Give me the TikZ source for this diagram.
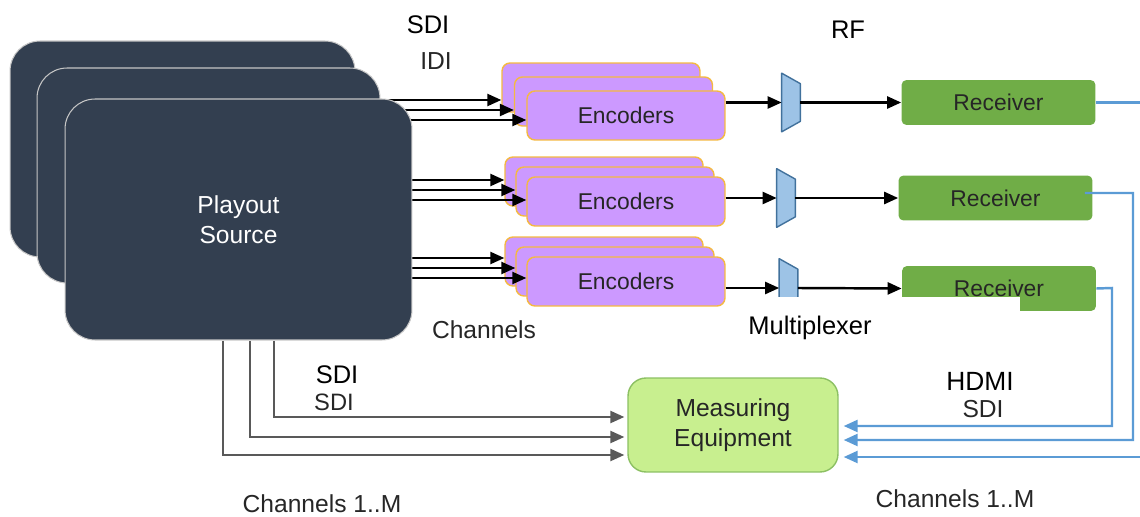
\documentclass[tikz,border=0pt]{standalone}
\usepackage{fontspec}
\setmainfont{Liberation Sans}
\usetikzlibrary{arrows.meta,positioning}

\definecolor{slate}{HTML}{333F50}
\definecolor{lilac}{HTML}{CC99FF}
\definecolor{amber}{HTML}{F4B942}
\definecolor{muxblue}{HTML}{9DC3E6}
\definecolor{muxedge}{HTML}{41719C}
\definecolor{rxgreen}{HTML}{70AD47}
\definecolor{measfill}{HTML}{C8EF8F}
\definecolor{measedge}{HTML}{8CC063}
\definecolor{wireblue}{HTML}{5B9BD5}
\definecolor{wiregrey}{HTML}{595959}
\definecolor{inkgrey}{HTML}{262626}

\pgfdeclarelayer{fg}
\pgfsetlayers{main,fg}

\tikzset{
  src/.style={draw=gray!45, line width=0.6pt, fill=slate, rounded corners=0.6cm, inner sep=0pt},
  enc/.style={draw=amber, line width=0.8pt, fill=lilac, rounded corners=0.16cm, minimum width=3.96cm, minimum height=0.98cm, inner sep=0pt, text=inkgrey, font=\fontsize{13}{15}\selectfont},
  muxbox/.style={minimum width=0.36cm, minimum height=1.16cm, inner sep=0pt},
  muxfill/.style={draw=muxedge, fill=muxblue, line width=0.8pt, line join=round},
  rx/.style={fill=rxgreen, rounded corners=0.1cm, minimum width=3.88cm, minimum height=0.9cm, inner sep=0pt, text=inkgrey, font=\fontsize{13}{15}\selectfont},
  meas/.style={draw=measedge, line width=0.8pt, fill=measfill, rounded corners=0.36cm, minimum width=4.2cm, minimum height=1.88cm, align=center, text=inkgrey, font=\fontsize{14}{17}\selectfont},
  lbl/.style={anchor=base, inner sep=0pt, font=\fontsize{14.5}{17}\selectfont},
  note/.style={lbl, text=inkgrey, font=\fontsize{14}{17}\selectfont},
  feed/.style={line width=1.4pt, -{Triangle[length=0.28cm,width=0.24cm]}},
  tap/.style={draw=wiregrey, line width=1.4pt, -{Triangle[length=0.28cm,width=0.24cm]}, shorten >=0.06cm},
  ret/.style={draw=wireblue, line width=1.4pt, -{Triangle[length=0.28cm,width=0.24cm]}, shorten >=0.1cm}
}

\begin{document}
\begin{tikzpicture}[x=0.02cm, y=-0.02cm]
    \useasboundingbox (0,0) rectangle (1140,517);
    \clip (0,0) rectangle (1140,517);

    % playout stack
    \begin{pgfonlayer}{fg}
        \node[src, minimum width=6.9cm, minimum height=4.32cm] (src3) at (182.5,149) {};
        \node[src, minimum width=6.86cm, minimum height=4.3cm] (src2) at (208.5,175.5) {};
        \node[src, minimum width=6.94cm, minimum height=4.82cm, align=center, text=white, font=\fontsize{14}{17}\selectfont] (src1) at (238.5,219.5) {Playout\\Source};
    \end{pgfonlayer}

    % encoders
    \node[enc] (enc1a) at (601,87.5) {};
    \node[enc] (enc1b) at (613.5,101.5) {};
    \node[enc] (enc1c) at (626,115.5) {Encoders};
    \node[enc] (enc2a) at (604,181.5) {};
    \node[enc] (enc2b) at (615,191.5) {};
    \node[enc] (enc2c) at (626,201.5) {Encoders};
    \node[enc] (enc3a) at (604,261.5) {};
    \node[enc] (enc3b) at (615,271.5) {};
    \node[enc] (enc3c) at (626,281.5) {Encoders};

    % channels into encoders
    \draw[feed] (src2.east |- 0,100) -- (enc1a.west |- 0,100);
    \draw[feed] (src2.east |- 0,110) -- (enc1b.west |- 0,110);
    \draw[feed] (src2.east |- 0,120) -- (enc1c.west |- 0,120);
    \draw[feed] (src2.east |- 0,180) -- (enc2a.west |- 0,180);
    \draw[feed] (src2.east |- 0,190) -- (enc2b.west |- 0,190);
    \draw[feed] (src2.east |- 0,200) -- (enc2c.west |- 0,200);
    \draw[feed] (src2.east |- 0,258) -- (enc3a.west |- 0,258);
    \draw[feed] (src2.east |- 0,268) -- (enc3b.west |- 0,268);
    \draw[feed] (src2.east |- 0,278) -- (enc3c.west |- 0,278);

    % multiplexers
    \node[muxbox] (mux1) at (791,102.5) {};
    \node[muxbox] (mux2) at (786,198) {};
    \node[muxbox] (mux3) at (788.5,288) {};
    \draw[muxfill] (mux1.north west) -- ([yshift=-0.21cm]mux1.north east) -- ([yshift=0.21cm]mux1.south east) -- (mux1.south west) -- cycle;
    \draw[muxfill] (mux2.north west) -- ([yshift=-0.21cm]mux2.north east) -- ([yshift=0.21cm]mux2.south east) -- (mux2.south west) -- cycle;
    \draw[muxfill] (mux3.north west) -- ([yshift=-0.21cm]mux3.north east) -- ([yshift=0.21cm]mux3.south east) -- (mux3.south west) -- cycle;

    % receivers
    \node[rx] (rx1) at (998.5,102.5) {Receiver};
    \node[rx] (rx2) at (995.5,198) {Receiver};
    \node[rx] (rx3) at (999,288.5) {Receiver};

    \draw[feed] (mux1 -| enc1c.east) -- (mux1.west);
    \draw[feed] (mux2 -| enc2c.east) -- (mux2.west);
    \draw[feed] (mux3 -| enc3c.east) -- (mux3.west);
    \draw[feed] (mux1.east) -- (rx1.west);
    \draw[feed] (mux2.east) -- (rx2.west);
    \draw[feed] (mux3.east) -- (rx3.west);

    % measuring equipment
    \node[meas] (meas) at (733,425) {Measuring\\Equipment};

    \draw[tap] (src1.south -| 274,0) |- (meas.west |- 0,417);
    \draw[tap] (src1.south -| 250,0) |- (meas.west |- 0,437);
    \draw[tap] (src1.south -| 223,0) |- (meas.west |- 0,455);

    \draw[ret] ([xshift=-0.16cm,yshift=0.1cm]rx2.east) -- (1133,193) |- (meas.east |- 0,440);
    \draw[ret] (rx3.east) -- (1112,288) |- (meas.east |- 0,426);
    \draw[ret] (rx1.east) -- (1160,102.5) |- (meas.east |- 0,457);

    % blanked patch
    \fill[white] (735,297) rectangle (1020,346);

    % labels
    \node[lbl] (tsdi) at (428,34) {SDI};
    \node[note] (tidi) at (436,70) {IDI};
    \node[lbl] (trf) at (848,39) {RF};
    \node[note] (tch) at (484,338) {Channels};
    \node[lbl] (tmux) at (810,334) {Multiplexer};
    \node[lbl] (tsdib) at (337,383) {SDI};
    \node[note, font=\fontsize{13.5}{16}\selectfont] (tsdig) at (334,410) {SDI};
    \node[lbl, font=\fontsize{15}{17}\selectfont] (thdmi) at (980,390) {HDMI};
    \node[note] (tsdir) at (983,417) {SDI};
    \node[note] (tchl) at (322,512) {Channels 1..M};
    \node[note] (tchr) at (955,507) {Channels 1..M};
\end{tikzpicture}
\end{document}
